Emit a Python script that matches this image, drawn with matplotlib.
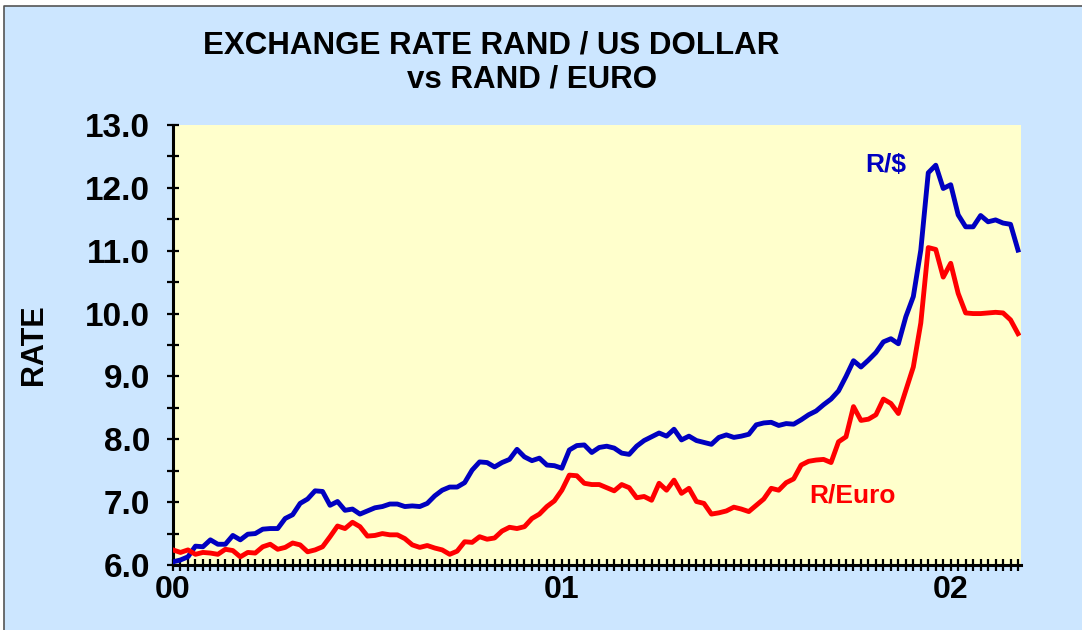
import matplotlib
matplotlib.use("Agg")
import matplotlib.pyplot as plt
from matplotlib.patches import Rectangle
from matplotlib.lines import Line2D
from matplotlib.ticker import MultipleLocator, FixedLocator

# weekly readings, first week of 2000 onwards
rand_usd = [6.05, 6.08, 6.13, 6.30, 6.29, 6.40, 6.33, 6.33, 6.47, 6.40,
            6.49, 6.50, 6.57, 6.58, 6.58, 6.74, 6.80, 6.98, 7.05, 7.18,
            7.17, 6.95, 7.01, 6.87, 6.89, 6.81, 6.86, 6.91, 6.93, 6.97,
            6.97, 6.93, 6.94, 6.93, 6.98, 7.10, 7.19, 7.24, 7.24, 7.31,
            7.51, 7.64, 7.63, 7.56, 7.63, 7.68, 7.84, 7.72, 7.66, 7.70,
            7.59, 7.58, 7.54, 7.83, 7.90, 7.91, 7.79, 7.87, 7.89, 7.86,
            7.78, 7.76, 7.89, 7.98, 8.04, 8.10, 8.05, 8.16, 7.99, 8.05,
            7.98, 7.95, 7.92, 8.03, 8.07, 8.03, 8.05, 8.08, 8.23, 8.26,
            8.27, 8.22, 8.25, 8.24, 8.31, 8.39, 8.45, 8.55, 8.64, 8.77,
            9.00, 9.25, 9.15, 9.26, 9.38, 9.55, 9.60, 9.52, 9.95, 10.27,
            11.01, 12.24, 12.36, 11.99, 12.05, 11.57, 11.38, 11.38, 11.56, 11.46,
            11.49, 11.44, 11.42, 11.01]

rand_euro = [6.24, 6.20, 6.24, 6.17, 6.20, 6.19, 6.17, 6.25, 6.23, 6.13,
             6.20, 6.19, 6.29, 6.33, 6.25, 6.28, 6.35, 6.32, 6.21, 6.24,
             6.29, 6.45, 6.62, 6.58, 6.68, 6.61, 6.46, 6.47, 6.50, 6.48,
             6.48, 6.42, 6.32, 6.28, 6.31, 6.27, 6.24, 6.17, 6.22, 6.37,
             6.36, 6.45, 6.41, 6.43, 6.54, 6.60, 6.58, 6.61, 6.74, 6.81,
             6.93, 7.02, 7.19, 7.43, 7.42, 7.30, 7.28, 7.28, 7.23, 7.18,
             7.28, 7.23, 7.07, 7.09, 7.03, 7.30, 7.19, 7.35, 7.14, 7.22,
             7.01, 6.98, 6.81, 6.83, 6.86, 6.92, 6.89, 6.85, 6.95, 7.05,
             7.22, 7.19, 7.31, 7.37, 7.59, 7.65, 7.67, 7.68, 7.63, 7.96,
             8.04, 8.52, 8.30, 8.32, 8.39, 8.64, 8.57, 8.41, 8.78, 9.15,
             9.85, 11.05, 11.02, 10.58, 10.80, 10.32, 10.01, 10.00, 10.00, 10.01,
             10.02, 10.01, 9.90, 9.68]

weeks = list(range(len(rand_usd)))
year_weeks = [0, 52, 104]
year_labels = ["00", "01", "02"]

plt.rcParams['font.family'] = ['Liberation Sans', 'DejaVu Sans']
plt.rcParams['font.weight'] = 'bold'

fig = plt.figure(figsize=(10.82, 6.30), dpi=100, facecolor='white')
# light blue panel, dark frame only on top and left
x0 = 4 / 1082
y1 = 1 - 6 / 630
fig.patches.append(Rectangle((x0, 0), 1 - x0, y1, transform=fig.transFigure,
                             facecolor='#CCE6FF', edgecolor='none', zorder=-10))
fig.lines.append(Line2D([x0, x0, 1], [0, y1, y1], transform=fig.transFigure,
                        color='#555555', lw=1.2))

ax = fig.add_axes([173 / 1082, 65 / 630, 848 / 1082, 440 / 630])
ax.set_facecolor('#FFFFCC')

ax.plot(weeks, rand_usd, color='#0000C0', lw=3.5, solid_joinstyle='round', zorder=3)
ax.plot(weeks, rand_euro, color='#FF0000', lw=3.5, solid_joinstyle='round', zorder=3)

ax.set_xlim(0, 113.4)
ax.set_ylim(6.0, 13.0)

ax.xaxis.set_major_locator(FixedLocator(year_weeks))
ax.set_xticklabels(year_labels)
ax.xaxis.set_minor_locator(MultipleLocator(1))
ax.yaxis.set_major_locator(MultipleLocator(1.0))
ax.yaxis.set_minor_locator(MultipleLocator(0.5))
ax.set_yticklabels([f"{v:.1f}" for v in ax.get_yticks()])

for s in ['top', 'right']:
    ax.spines[s].set_visible(False)
for s in ['left', 'bottom']:
    ax.spines[s].set_linewidth(2.2)
    ax.spines[s].set_color('black')

ax.tick_params(axis='both', which='both', direction='inout', width=1.6, length=9, color='black')
ax.tick_params(axis='x', which='major', labelsize=23, pad=3)
ax.tick_params(axis='y', which='major', labelsize=24, pad=12)

ax.set_ylabel("RATE", fontsize=22, fontweight='bold', labelpad=26)

ax.text(95.3, 12.36, "R/$", color='#0000C0', fontsize=19, fontweight='bold', ha='center', va='center')
ax.text(90.9, 7.11, "R/Euro", color='#FF0000', fontsize=19, fontweight='bold', ha='center', va='center')

fig.text(491 / 1082, 1 - 45 / 630, "EXCHANGE RATE RAND / US DOLLAR", fontsize=22.5, fontweight='bold',
         ha='center', va='center')
fig.text(532 / 1082, 1 - 80 / 630, "vs RAND / EURO", fontsize=22.5, fontweight='bold',
         ha='center', va='center')

fig.savefig("out.png", dpi=100, facecolor=fig.get_facecolor())
